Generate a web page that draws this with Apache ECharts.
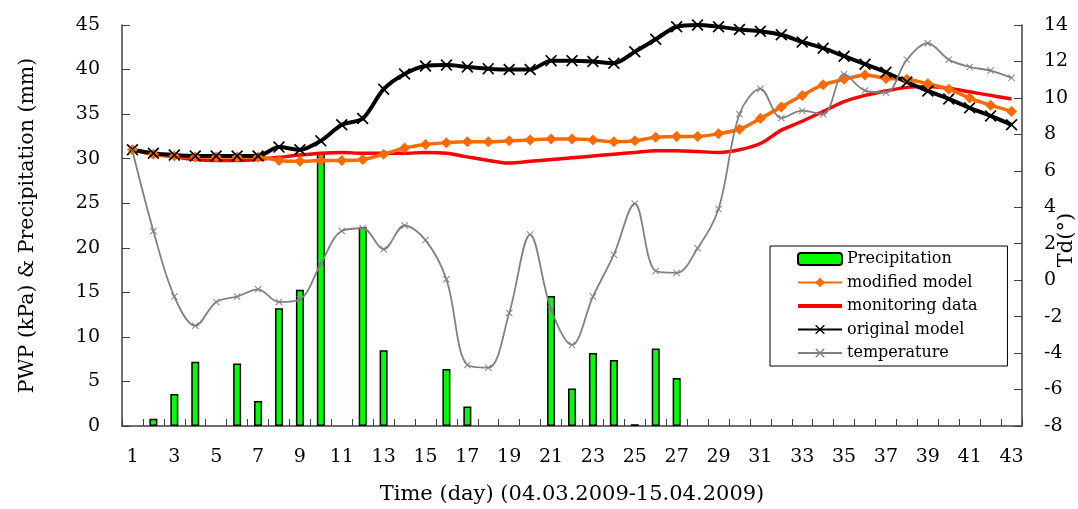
<!DOCTYPE html>
<html>
<head>
<meta charset="utf-8">
<script src="https://cdn.jsdelivr.net/npm/echarts@6/dist/echarts.min.js"></script>
<style>
  html, body { margin: 0; padding: 0; background: #fff; }
  #chart { width: 1078px; height: 509px; }
</style>
</head>
<body>
<div id="chart"></div>
<script>
// 日期分类 (04.03.2009 - 15.04.2009)
var days = ["1","2","3","4","5","6","7","8","9","10","11","12","13","14","15","16","17","18","19","20","21","22",
  "23","24","25","26","27","28","29","30","31","32","33","34","35","36","37","38","39","40","41","42","43"];

// 降雨量 (mm)
var precipitation = [0, 0.8, 3.6, 7.2, 0, 7.0, 2.8, 13.2, 15.3, 30.6, 0, 22.3, 8.5, 0, 0, 6.4, 2.2, 0, 0, 0,
  14.6, 4.2, 8.2, 7.4, 0.2, 8.7, 5.4, 0, 0, 0, 0, 0, 0, 0, 0, 0, 0, 0, 0, 0, 0, 0, 0];

// 孔隙水压力 (kPa)
var modifiedModel = [31.0, 30.5, 30.3, 30.2, 30.2, 30.2, 30.2, 29.8, 29.7, 29.8, 29.8, 29.9, 30.5, 31.2, 31.6,
  31.8, 31.9, 31.9, 32.0, 32.1, 32.2, 32.2, 32.1, 31.9, 32.0, 32.4, 32.5, 32.5, 32.8, 33.3, 34.5, 35.8, 37.1,
  38.3, 38.9, 39.4, 39.0, 38.9, 38.4, 37.8, 36.8, 36.0, 35.3];
var monitoringData = [31.0, 30.5, 30.2, 29.9, 29.8, 29.8, 29.9, 30.15, 30.4, 30.6, 30.7, 30.6, 30.6, 30.6, 30.7,
  30.6, 30.2, 29.8, 29.5, 29.7, 29.9, 30.1, 30.3, 30.5, 30.7, 30.9, 30.9, 30.8, 30.7, 31.0, 31.7, 33.2, 34.2,
  35.3, 36.4, 37.1, 37.6, 38.0, 38.1, 37.9, 37.5, 37.1, 36.7];
var originalModel = [31.0, 30.6, 30.4, 30.3, 30.3, 30.3, 30.3, 31.3, 31.0, 32.0, 33.8, 34.5, 37.8, 39.5, 40.4,
  40.5, 40.3, 40.1, 40.0, 40.0, 41.0, 41.0, 40.9, 40.7, 42.0, 43.4, 44.8, 45.0, 44.8, 44.5, 44.3, 43.9, 43.1,
  42.4, 41.5, 40.6, 39.7, 38.6, 37.6, 36.7, 35.7, 34.8, 33.8];

// 温度 (右轴)
var temperature = [7.1, 2.7, -0.9, -2.5, -1.2, -0.9, -0.5, -1.2, -1.05, 0.9, 2.7, 2.85, 1.7, 3.0, 2.2, 0.05,
  -4.65, -4.8, -1.8, 2.5, -1.6, -3.55, -0.9, 1.4, 4.2, 0.5, 0.4, 1.75, 3.9, 9.1, 10.5, 8.9, 9.3, 9.1, 11.3,
  10.4, 10.3, 12.1, 13.0, 12.1, 11.7, 11.5, 11.1];

var serif = "DejaVu Serif";
var crossPath = "path://M0,1L1,0L5,4L9,0L10,1L6,5L10,9L9,10L5,6L1,10L0,9L4,5Z";
var axisColor = "#404040";

// 无降雨的日子不画柱子(避免0高度柱子的边框)
var precipitationBars = precipitation.map(function (v) {
  return v > 0 ? v : null;
});

var myChart = echarts.init(document.getElementById("chart"));

var option = {
  animation: false,
  textStyle: { fontFamily: serif },
  grid: { left: 122, right: 56, top: 25, bottom: 83, outerBoundsMode: "none" },
  // 右轴标题 (竖排, 贴近画布右边缘)
  graphic: [
    {
      type: "text",
      x: 1067,
      y: 240,
      rotation: Math.PI / 2,
      style: {
        text: "Td(°)",
        align: "center",
        verticalAlign: "middle",
        font: '21px "DejaVu Serif"',
        fill: "#000"
      }
    }
  ],
  legend: {
    orient: "vertical",
    left: 770,
    top: 246,
    padding: [5, 30, 5, 27],
    borderColor: "#000",
    borderWidth: 1,
    itemWidth: 44,
    itemHeight: 12,
    itemGap: 7.5,
    textStyle: { fontFamily: serif, fontSize: 16, color: "#000" },
    data: [
      "Precipitation",
      "modified model",
      { name: "monitoring data", icon: "path://M0,0L44,0L44,4L0,4Z" },
      "original model",
      "temperature"
    ]
  },
  xAxis: {
    type: "category",
    data: days,
    boundaryGap: true,
    name: "Time (day) (04.03.2009-15.04.2009)",
    nameLocation: "middle",
    nameGap: 58,
    nameTextStyle: { fontFamily: serif, fontSize: 21, color: "#000" },
    axisLine: { lineStyle: { color: axisColor, width: 1.5 } },
    axisTick: { show: true, inside: true, length: 7, interval: 0, lineStyle: { color: axisColor, width: 1 } },
    axisLabel: { interval: 1, margin: 22, fontFamily: serif, fontSize: 19, color: "#000" },
    splitLine: { show: false }
  },
  yAxis: [
    {
      type: "value",
      min: 0,
      max: 45,
      interval: 5,
      name: "PWP (kPa) & Precipitation (mm)",
      nameLocation: "middle",
      nameGap: 84,
      nameRotate: 90,
      nameTextStyle: { fontFamily: serif, fontSize: 20.5, color: "#000" },
      axisLine: { show: true, lineStyle: { color: axisColor, width: 1.5 } },
      axisTick: { show: true, inside: true, length: 8, lineStyle: { color: axisColor } },
      axisLabel: { margin: 22, fontFamily: serif, fontSize: 19, color: "#000" },
      splitLine: { show: false }
    },
    {
      type: "value",
      min: -8,
      max: 14,
      interval: 2,
      position: "right",
      axisLine: { show: true, lineStyle: { color: axisColor, width: 1.5 } },
      axisTick: { show: true, inside: true, length: 8, lineStyle: { color: axisColor } },
      axisLabel: { margin: 22, fontFamily: serif, fontSize: 19, color: "#000" },
      splitLine: { show: false }
    }
  ],
  series: [
    {
      name: "Precipitation",
      type: "bar",
      yAxisIndex: 0,
      data: precipitationBars,
      barWidth: 8,
      itemStyle: { color: "#00FF00", borderColor: "#000", borderWidth: 1.5 }
    },
    {
      name: "monitoring data",
      type: "line",
      yAxisIndex: 0,
      data: monitoringData,
      smooth: 0.3,
      showSymbol: false,
      lineStyle: { color: "#FF0000", width: 3.5 },
      itemStyle: { color: "#FF0000" }
    },
    {
      name: "modified model",
      type: "line",
      yAxisIndex: 0,
      data: modifiedModel,
      smooth: 0.3,
      symbol: "diamond",
      symbolSize: 11,
      lineStyle: { color: "#FF6A00", width: 3.5 },
      itemStyle: { color: "#FF6A00" }
    },
    {
      name: "original model",
      type: "line",
      yAxisIndex: 0,
      data: originalModel,
      smooth: 0.3,
      symbol: crossPath,
      symbolSize: 12,
      lineStyle: { color: "#000", width: 4 },
      itemStyle: { color: "#000" }
    },
    {
      name: "temperature",
      type: "line",
      yAxisIndex: 1,
      data: temperature,
      smooth: 0.35,
      symbol: crossPath,
      symbolSize: 7,
      lineStyle: { color: "#808080", width: 1.8 },
      itemStyle: { color: "#808080" }
    }
  ]
};

myChart.setOption(option, true);
</script>
</body>
</html>
